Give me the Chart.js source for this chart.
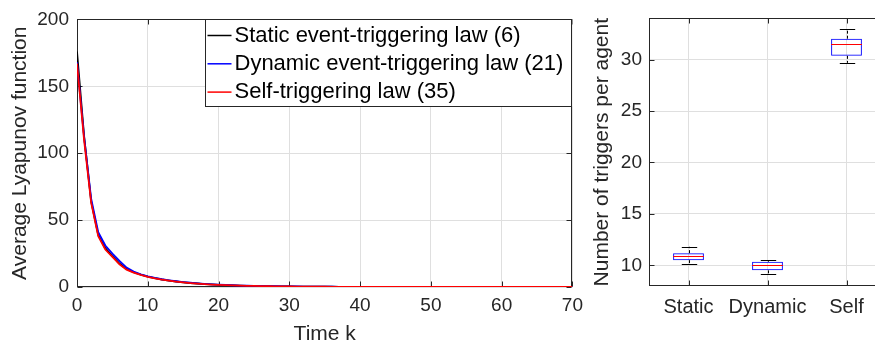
<!DOCTYPE html>
<html>
<head>
<meta charset="utf-8">
<script src="https://cdn.jsdelivr.net/npm/chart.js@4.4.0/dist/chart.umd.min.js"></script>
<style>
  body { margin: 0; width: 875px; height: 345px; overflow: hidden; position: relative; background: #fff; }
  #left { position: absolute; left: 0; top: 0; width: 590px; height: 345px; }
  #right { position: absolute; left: 590px; top: 0; width: 310px; height: 345px; }
</style>
</head>
<body>
<div id="left"><canvas id="lyap"></canvas></div>
<div id="right"><canvas id="trig"></canvas></div>
<script>
// ---- left panel: average Lyapunov function over time ----
const timeSteps = Array.from({ length: 71 }, (_, k) => k);
const staticLaw = [
  176, 113, 64, 39, 29, 23, 17.5, 13.5, 11, 9.2,
  7.8, 6.6, 5.6, 4.8, 4.1, 3.5, 3.0, 2.6, 2.2, 1.9,
  1.6, 1.4, 1.2, 1.05, 0.9, 0.8, 0.7, 0.6, 0.52, 0.45,
  0.4, 0.35, 0.3, 0.26, 0.23, 0.2, 0.17, 0.15, 0.13, 0.11,
  0.1, 0.09, 0.08, 0.07, 0.06, 0.05, 0.05, 0.04, 0.04, 0.03,
  0.03, 0.03, 0.02, 0.02, 0.02, 0.02, 0.01, 0.01, 0.01, 0.01,
  0.01, 0.01, 0.01, 0.01, 0, 0, 0, 0, 0, 0, 0
];
const dynamicLaw = [
  168, 112, 66, 41, 31, 25, 19.5, 14.5, 11.5, 9.5,
  8, 6.8, 5.8, 5, 4.3, 3.7, 3.2, 2.7, 2.3, 2.0,
  1.7, 1.5, 1.3, 1.1, 0.95, 0.85, 0.75, 0.65, 0.55, 0.48,
  0.42, 0.37, 0.32, 0.28, 0.24, 0.21, 0.18, 0.16, 0.14, 0.12,
  0.11, 0.1, 0.09, 0.08, 0.07, 0.06, 0.05, 0.05, 0.04, 0.04,
  0.03, 0.03, 0.03, 0.02, 0.02, 0.02, 0.02, 0.01, 0.01, 0.01,
  0.01, 0.01, 0.01, 0.01, 0.01, 0, 0, 0, 0, 0, 0
];
const selfLaw = [
  167, 110, 63, 38, 28, 22.5, 17, 13, 10.7, 9,
  7.6, 6.4, 5.5, 4.7, 4.0, 3.4, 2.9, 2.5, 2.1, 1.8,
  1.55, 1.35, 1.15, 1.0, 0.88, 0.77, 0.67, 0.58, 0.5, 0.44,
  0.38, 0.33, 0.29, 0.25, 0.22, 0.19, 0.16, 0.14, 0.12, 0.1,
  0.09, 0.08, 0.07, 0.06, 0.05, 0.05, 0.04, 0.04, 0.03, 0.03,
  0.03, 0.02, 0.02, 0.02, 0.02, 0.01, 0.01, 0.01, 0.01, 0.01,
  0.01, 0.01, 0.01, 0, 0, 0, 0, 0, 0, 0, 0
];
const seriesNames = ['Static event-triggering law (6)', 'Dynamic event-triggering law (21)', 'Self-triggering law (35)'];
const seriesColors = ['#000000', '#0000ff', '#ff0000'];

// ---- right panel: box plot of triggers per agent ----
const laws = ['Static', 'Dynamic', 'Self'];
const whiskerLow = [10.16, 9.16, 29.68];
const boxLow = [10.51, 9.52, 30.36];
const medians = [10.94, 10.0, 31.49];
const boxHigh = [11.19, 10.36, 32.03];
const whiskerHigh = [11.81, 10.51, 33.0];
const triggerTicks = [10, 15, 20, 25, 30];

Chart.defaults.font.family = "'Liberation Sans', Arial, sans-serif";
Chart.defaults.color = '#262626';

const axisColor = '#262626';
const gridColor = '#dfdfdf';

// box outline + inward ticks, MATLAB style
const frame = {
  id: 'frame',
  beforeDatasetsDraw(chart) {
    const { ctx, chartArea: a } = chart;
    const l = Math.round(a.left) + 0.5, r = Math.round(a.right) - 0.5;
    const t = Math.round(a.top) + 0.5, b = Math.round(a.bottom) - 0.5;
    ctx.save();
    ctx.strokeStyle = axisColor;
    ctx.lineWidth = 1;
    ctx.strokeRect(l, t, r - l, b - t);
    ctx.beginPath();
    const xs = chart.scales.x, ys = chart.scales.y;
    xs.ticks.forEach((_, i) => {
      const px = Math.round(xs.getPixelForTick(i)) + 0.5;
      ctx.moveTo(px, b); ctx.lineTo(px, b - 5);
      ctx.moveTo(px, t); ctx.lineTo(px, t + 5);
    });
    ys.ticks.forEach((_, i) => {
      const py = Math.round(ys.getPixelForTick(i)) + 0.5;
      ctx.moveTo(l, py); ctx.lineTo(l + 5, py);
      ctx.moveTo(r, py); ctx.lineTo(r - 5, py);
    });
    ctx.stroke();
    ctx.restore();
  }
};

const lyapLegend = {
  id: 'lyapLegend',
  afterDraw(chart) {
    const { ctx, chartArea: a } = chart;
    const w = 367, h = 87;
    const x0 = Math.round(a.right - w) + 0.5, y0 = Math.round(a.top) + 0.5;
    ctx.save();
    ctx.fillStyle = '#fff';
    ctx.fillRect(x0, y0, w, h);
    ctx.strokeStyle = axisColor;
    ctx.lineWidth = 1;
    ctx.strokeRect(x0, y0, w - 1, h);
    ctx.font = "22px 'Liberation Sans', Arial, sans-serif";
    ctx.textBaseline = 'middle';
    ctx.textAlign = 'left';
    seriesNames.forEach((name, i) => {
      const y = y0 + 16 + i * 28.3;
      ctx.strokeStyle = seriesColors[i];
      ctx.lineWidth = 1.5;
      ctx.beginPath();
      ctx.moveTo(x0 + 2, y); ctx.lineTo(x0 + 26, y);
      ctx.stroke();
      ctx.fillStyle = '#000';
      ctx.fillText(name, x0 + 29, y);
    });
    ctx.restore();
  }
};

new Chart(document.getElementById('lyap'), {
  type: 'line',
  data: {
    datasets: [staticLaw, dynamicLaw, selfLaw].map((vals, i) => ({
      label: seriesNames[i],
      data: vals.map((v, k) => ({ x: timeSteps[k], y: v })),
      borderColor: seriesColors[i],
      borderWidth: 1.8,
      pointRadius: 0,
      tension: 0,
      order: 3 - i
    }))
  },
  options: {
    responsive: true,
    maintainAspectRatio: false,
    animation: false,
    layout: { padding: { top: 17, right: 15, left: 0, bottom: 0 } },
    plugins: { legend: { display: false }, tooltip: { enabled: false } },
    scales: {
      x: {
        type: 'linear', min: 0, max: 70,
        ticks: { stepSize: 10, font: { size: 19 }, padding: 7, maxRotation: 0 },
        grid: { color: gridColor, drawTicks: false },
        border: { display: false },
        title: { display: true, text: 'Time k', font: { size: 21, lineHeight: 1 }, padding: 0 },
        afterFit(s) { s.height = 58; }
      },
      y: {
        min: 0, max: 200,
        ticks: { stepSize: 50, font: { size: 19 }, padding: 8 },
        grid: { color: gridColor, drawTicks: false },
        border: { display: false },
        title: { display: true, text: 'Average Lyapunov function', font: { size: 21 }, padding: { top: 8, bottom: 0 } },
        afterFit(s) { s.width = 77; }
      }
    }
  },
  plugins: [frame, lyapLegend]
});

// whiskers, caps and medians on top of the floating bars
const boxParts = {
  id: 'boxParts',
  afterDatasetsDraw(chart) {
    const { ctx } = chart;
    const ys = chart.scales.y;
    const bars = chart.getDatasetMeta(0).data;
    ctx.save();
    bars.forEach((bar, i) => {
      const cx = Math.round(bar.x) + 0.5;
      const hw = bar.width / 2, cap = bar.width / 4;
      ctx.strokeStyle = '#000';
      ctx.lineWidth = 1;
      ctx.setLineDash([3, 2]);
      ctx.beginPath();
      ctx.moveTo(cx, ys.getPixelForValue(boxHigh[i]));
      ctx.lineTo(cx, ys.getPixelForValue(whiskerHigh[i]));
      ctx.moveTo(cx, ys.getPixelForValue(boxLow[i]));
      ctx.lineTo(cx, ys.getPixelForValue(whiskerLow[i]));
      ctx.stroke();
      ctx.setLineDash([]);
      ctx.beginPath();
      [whiskerHigh[i], whiskerLow[i]].forEach(v => {
        const py = Math.round(ys.getPixelForValue(v)) + 0.5;
        ctx.moveTo(cx - cap, py); ctx.lineTo(cx + cap, py);
      });
      ctx.stroke();
      ctx.strokeStyle = '#ff0000';
      ctx.beginPath();
      const my = Math.round(ys.getPixelForValue(medians[i])) + 0.5;
      ctx.moveTo(bar.x - hw, my); ctx.lineTo(bar.x + hw, my);
      ctx.stroke();
    });
    ctx.restore();
  }
};

new Chart(document.getElementById('trig'), {
  type: 'bar',
  data: {
    labels: laws,
    datasets: [{
      data: boxLow.map((v, i) => [v, boxHigh[i]]),
      backgroundColor: 'rgba(0,0,0,0)',
      borderColor: '#0000ff',
      borderWidth: 1,
      borderSkipped: false,
      barPercentage: 0.39,
      categoryPercentage: 1
    }]
  },
  options: {
    responsive: true,
    maintainAspectRatio: false,
    animation: false,
    layout: { padding: { top: 17, right: 14, left: 0, bottom: 0 } },
    plugins: { legend: { display: false }, tooltip: { enabled: false } },
    scales: {
      x: {
        ticks: { font: { size: 20 }, padding: 9, maxRotation: 0, autoSkip: false },
        grid: { color: gridColor, drawTicks: false, offset: false },
        border: { display: false },
        afterFit(s) { s.height = 59; }
      },
      y: {
        min: 8, max: 34,
        afterBuildTicks(s) { s.ticks = triggerTicks.map(v => ({ value: v })); },
        ticks: { font: { size: 19 }, padding: 7 },
        grid: { color: gridColor, drawTicks: false },
        border: { display: false },
        title: { display: true, text: 'Number of triggers per agent', font: { size: 21 }, padding: 0 },
        afterFit(s) { s.width = 59; }
      }
    }
  },
  plugins: [frame, boxParts]
});
</script>
</body>
</html>
